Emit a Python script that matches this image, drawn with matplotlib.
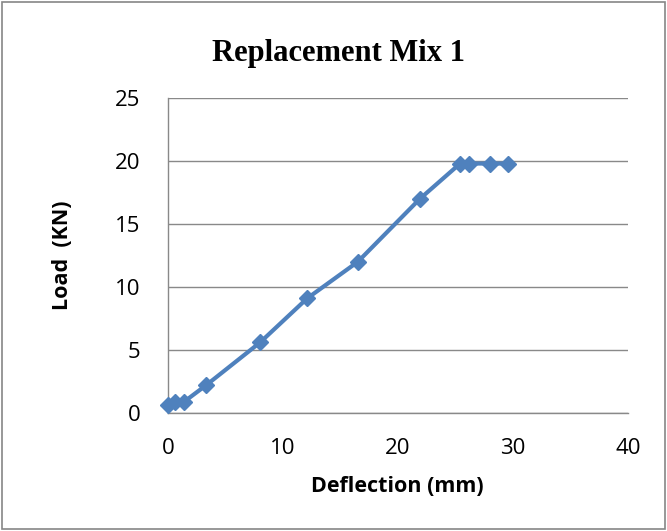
import matplotlib
matplotlib.use("Agg")
import matplotlib.pyplot as plt
from matplotlib.patches import Rectangle

deflection = [0.0, 0.6, 1.4, 3.3, 8.0, 12.1, 16.5, 21.9, 25.4, 26.2, 28.0, 29.6]
load = [0.6, 0.9, 0.9, 2.2, 5.6, 9.1, 12.0, 17.0, 19.8, 19.8, 19.8, 19.8]
x_ticks = [0, 10, 20, 30, 40]
y_ticks = [0, 5, 10, 15, 20, 25]

fig = plt.figure(figsize=(6.67, 5.31), dpi=100)
fig.patches.append(Rectangle((0.003, 0.003), 0.994, 0.994, transform=fig.transFigure,
                             fill=False, edgecolor="#868686", linewidth=1.2))
ax = fig.add_axes([0.252, 0.2222, 0.6895, 0.5932])
ax.plot(deflection, load, color="#4F81BD", linewidth=3, marker="D", markersize=8.5,
        markerfacecolor="#4F81BD", markeredgecolor="#4F81BD", zorder=3, clip_on=False)
ax.set_xlim(0, 40)
ax.set_ylim(0, 25)
ax.set_xticks(x_ticks)
ax.set_yticks(y_ticks)
ax.grid(axis="y", color="#898989", linewidth=1)
ax.set_axisbelow(True)
for s in ["top", "right"]:
    ax.spines[s].set_visible(False)
for s in ["left", "bottom"]:
    ax.spines[s].set_color("#898989")
    ax.spines[s].set_linewidth(1)
ax.tick_params(axis="both", length=0, labelsize=16)
ax.tick_params(axis="x", pad=18)
ax.tick_params(axis="y", pad=20)
for lab in ax.get_xticklabels() + ax.get_yticklabels():
    lab.set_family("Open Sans")
fig.text(397 / 667, 1 - 487 / 531, "Deflection (mm)", ha="center", va="center",
         fontsize=15.5, fontweight="bold", family="Open Sans")
fig.text(62 / 667, 1 - 255 / 531, "Load  (KN)", ha="center", va="center", rotation=90,
         fontsize=15.5, fontweight="bold", family="Open Sans")
fig.text(338 / 667, 1 - 54 / 531, "Replacement Mix 1", ha="center", va="center",
         fontsize=22, fontweight="bold", family="Liberation Serif")
fig.savefig("out.png", dpi=100)
